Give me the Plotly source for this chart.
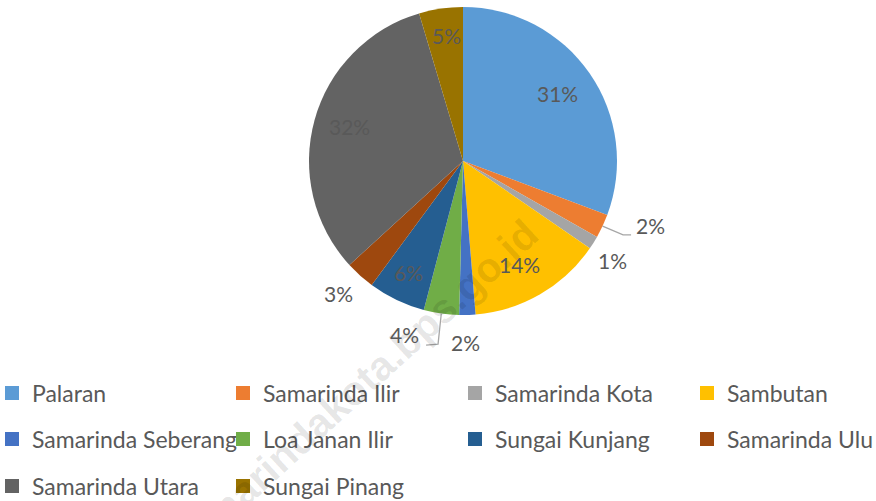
import numpy as np
import plotly.graph_objects as go

W, H = 876, 501

# ---- data ----
districts = ["Palaran", "Samarinda Ilir", "Samarinda Kota", "Sambutan",
             "Samarinda Seberang", "Loa Janan Ilir", "Sungai Kunjang",
             "Samarinda Ulu", "Samarinda Utara", "Sungai Pinang"]
shares = [30.7, 2.5, 1.4, 14.1, 1.7, 3.7, 6.0, 3.1, 32.2, 4.6]

# ---- style ----
colors = ["#5B9BD5", "#ED7D31", "#A5A5A5", "#FFC000", "#4472C4",
          "#70AD47", "#255E91", "#9E480E", "#636363", "#997300"]
# label placement: radius factor and angular nudge (deg) per slice
label_rf = [0.75, 1.288, 1.17, 0.776, 1.188, 1.2, 0.813, 1.186, 0.765, 0.813]
label_dt = [0.0, -5.6, 2.0, 1.6, 0.7, 10.5, 0.0, 0.9, 0.8, 0.5]
LABEL_DY = -1.5
leaders = {1: ((-27, 9.5), (-19, 9.5)), 5: ((34, 9.5), (22, 10.5))}
# legend grid (px): text-start of each column, centre of each row
leg_cols = [29, 260, 492, 724]
leg_rows = [393, 439, 486]
N_COLS = 4

TXT = "#595959"
FONT = "Lato"

dom_x = [(463 - 154) / W, (463 + 154) / W]
dom_y = [1 - (161 + 154) / H, 1 - (161 - 154) / H]

fig = go.Figure()
fig.add_trace(go.Pie(
    labels=districts, values=shares, sort=False, direction="clockwise",
    rotation=0, marker=dict(colors=colors, line=dict(width=0)),
    textinfo="none", showlegend=False, hoverinfo="label+percent",
    domain=dict(x=dom_x, y=dom_y),
))

# watermark (drawn first)
annotations = [dict(
    text="<b>samarindakota.bps.go.id</b>", x=353 / W, y=1 - 391 / H,
    xref="paper", yref="paper", showarrow=False, textangle=-42.5,
    font=dict(family="Liberation Sans", size=41, color="rgba(0,0,0,0.1)"),
    xanchor="center", yanchor="middle")]

# legend entries: one single-item legend per entry, laid out on a grid
layout_legends = {}
for i, (name, col) in enumerate(zip(districts, colors)):
    key = "legend" if i == 0 else f"legend{i + 1}"
    fig.add_trace(go.Scatter(
        x=[None], y=[None], mode="markers", name=name, legend=key,
        marker=dict(symbol="square", size=14, color=col), showlegend=True,
        hoverinfo="skip"))
    r, c = divmod(i, N_COLS)
    layout_legends[key] = dict(
        x=(leg_cols[c] - 37) / W, y=1 - leg_rows[r] / H,
        xanchor="left", yanchor="middle", bgcolor="rgba(0,0,0,0)",
        font=dict(family=FONT, size=23, color=TXT), itemclick=False,
        itemdoubleclick=False, orientation="v")

# percentage labels computed from values
vals = np.array(shares, dtype=float)
total = vals.sum()
cum = np.concatenate([[0], np.cumsum(vals)[:-1]])
mid = (cum + vals / 2) / total * 360.0
cx = (dom_x[0] + dom_x[1]) / 2 * W
cy = (1 - (dom_y[0] + dom_y[1]) / 2) * H
R = min((dom_x[1] - dom_x[0]) * W, (dom_y[1] - dom_y[0]) * H) / 2

shapes = []
for i, v in enumerate(vals):
    pct = f"{round(v / total * 100):.0f}%"
    th = np.radians(mid[i] + label_dt[i])
    lx = cx + label_rf[i] * R * np.sin(th)
    ly = cy - label_rf[i] * R * np.cos(th) + LABEL_DY
    annotations.append(dict(
        text=pct, x=lx / W, y=1 - ly / H, xref="paper", yref="paper",
        showarrow=False, xanchor="center", yanchor="middle",
        font=dict(family=FONT, size=21, color=TXT)))
    if i in leaders:
        t0 = np.radians(mid[i])
        rx, ry = cx + R * np.sin(t0), cy - R * np.cos(t0)
        (ex, ey), (fx, fy) = leaders[i]
        pts = [(rx, ry), (lx + ex, ly + ey), (lx + fx, ly + fy)]
        path = "M " + " L ".join(f"{px / W},{1 - py / H}" for px, py in pts)
        shapes.append(dict(type="path", path=path, xref="paper", yref="paper",
                           line=dict(color="#A6A6A6", width=1.3)))

fig.update_layout(
    width=W, height=H,
    margin=dict(l=0, r=0, t=0, b=0, autoexpand=False),
    paper_bgcolor="white", plot_bgcolor="white",
    xaxis=dict(visible=False), yaxis=dict(visible=False),
    annotations=annotations, shapes=shapes,
    **layout_legends,
)

fig.write_html("out.html", config={"displayModeBar": False},
               post_script="document.body.style.margin='0px';")
